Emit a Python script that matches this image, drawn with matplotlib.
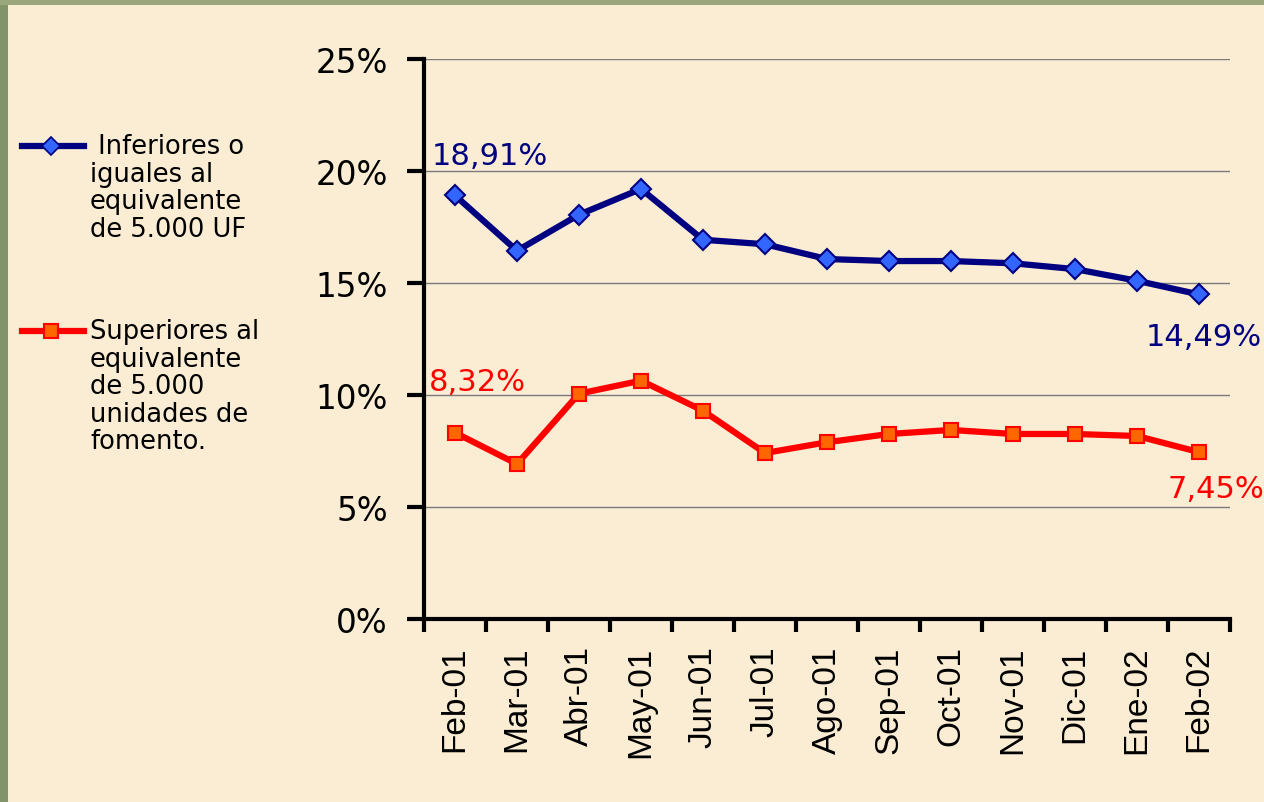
import numpy as np
import matplotlib.pyplot as plt
from matplotlib.lines import Line2D
from matplotlib.patches import Rectangle

# Data
months = ["Feb-01", "Mar-01", "Abr-01", "May-01", "Jun-01", "Jul-01", "Ago-01",
          "Sep-01", "Oct-01", "Nov-01", "Dic-01", "Ene-02", "Feb-02"]
inferiores = [18.91, 16.44, 18.05, 19.20, 16.93, 16.73, 16.07,
              15.98, 15.98, 15.88, 15.62, 15.10, 14.49]
superiores = [8.32, 6.92, 10.06, 10.64, 9.30, 7.41, 7.89,
              8.26, 8.44, 8.26, 8.26, 8.17, 7.45]
yticks = [0, 5, 10, 15, 20, 25]

BG = "#FAEDD3"
NAVY = "#000080"
RED = "#FF0000"


def main():
    fig = plt.figure(figsize=(12.64, 8.03), dpi=100)
    fig.patch.set_facecolor(BG)
    # green frame strips (left and top)
    fig.patches.append(Rectangle((0, 0), 8 / 1264, 1, transform=fig.transFigure,
                                 facecolor="#82956A", edgecolor="none"))
    fig.patches.append(Rectangle((0, 1 - 6 / 803), 1, 6 / 803, transform=fig.transFigure,
                                 facecolor="#9AA67C", edgecolor="none"))

    ax = fig.add_axes([424 / 1264, 1 - 620 / 803, (1230 - 424) / 1264, 560 / 803])
    ax.set_facecolor("none")
    x = np.arange(len(months))

    ax.plot(x, inferiores, color=NAVY, lw=4.5, marker="D", ms=10,
            mfc="#3366FF", mec=NAVY, mew=1.5, zorder=3)
    ax.plot(x, superiores, color=RED, lw=4.5, marker="s", ms=10,
            mfc="#FF6600", mec=RED, mew=1.5, zorder=3)

    ax.set_xlim(-0.5, len(months) - 0.5)
    ax.set_ylim(0, 25)
    ax.set_yticks(yticks)
    ax.set_yticklabels([f"{v}%" for v in yticks], fontsize=23.5, family="DejaVu Sans")
    ax.yaxis.grid(True, color="#7a7a7a", lw=1)
    ax.set_axisbelow(True)

    ax.set_xticks(x)
    ax.set_xticklabels(months, rotation=90, fontsize=24, family="Liberation Sans")
    ax.set_xticks(np.arange(len(months) + 1) - 0.5, minor=True)
    ax.tick_params(axis="x", which="major", length=0, pad=19)
    ax.tick_params(axis="x", which="minor", length=9, width=3, direction="out")
    ax.tick_params(axis="y", length=12, width=3, direction="out", pad=14)

    for side in ["top", "right"]:
        ax.spines[side].set_visible(False)
    for side in ["left", "bottom"]:
        ax.spines[side].set_linewidth(3)
        ax.spines[side].set_zorder(4)

    lab = dict(textcoords="offset pixels", ha="center", va="center",
               fontsize=22, family="DejaVu Sans", annotation_clip=False)
    ax.annotate("18,91%", (0, inferiores[0]), xytext=(35, 40), color=NAVY, **lab)
    ax.annotate("8,32%", (0, superiores[0]), xytext=(22, 51), color=RED, **lab)
    ax.annotate("14,49%", (12, inferiores[-1]), xytext=(5, -42), color=NAVY, **lab)
    ax.annotate("7,45%", (12, superiores[-1]), xytext=(17, -36), color=RED, **lab)

    # legend drawn by hand on the left
    fig.add_artist(Line2D([22 / 1264, 84 / 1264], [1 - 147 / 803] * 2, color=NAVY, lw=4.5))
    fig.add_artist(Line2D([51 / 1264], [1 - 147 / 803], marker="D", ms=9,
                          mfc="#3366FF", mec=NAVY, mew=1.2))
    fig.add_artist(Line2D([22 / 1264, 84 / 1264], [1 - 332 / 803] * 2, color=RED, lw=4.5))
    fig.add_artist(Line2D([51 / 1264], [1 - 332 / 803], marker="s", ms=10,
                          mfc="#FF6600", mec=RED, mew=1.5))
    leg = dict(fontsize=18.5, family="DejaVu Sans", weight="medium",
               va="top", ha="left", linespacing=1.08)
    fig.text(90 / 1264, 1 - 134 / 803, " Inferiores o\niguales al\nequivalente\nde 5.000 UF", **leg)
    fig.text(90 / 1264, 1 - 319 / 803,
             "Superiores al\nequivalente\nde 5.000\nunidades de\nfomento.", **leg)

    fig.savefig("out.png", dpi=100, facecolor=fig.get_facecolor())


if __name__ == "__main__":
    main()
